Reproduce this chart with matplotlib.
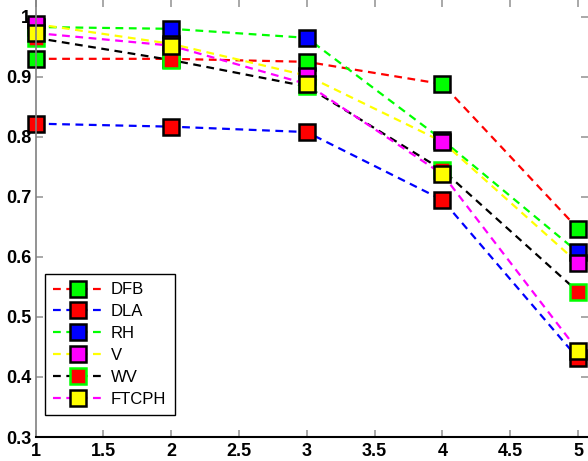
import numpy as np
import matplotlib
matplotlib.use('Agg')
import matplotlib.pyplot as plt

plt.rcParams['font.family'] = ['Liberation Sans', 'DejaVu Sans']

# Data
x = [1, 2, 3, 4, 5]
dfb = [0.930, 0.930, 0.925, 0.888, 0.647]
dla = [0.822, 0.817, 0.808, 0.695, 0.431]
rh = [0.983, 0.980, 0.965, 0.795, 0.608]
v = [0.988, 0.955, 0.902, 0.792, 0.590]
wv = [0.965, 0.928, 0.884, 0.745, 0.542]
ftcph = [0.973, 0.952, 0.888, 0.738, 0.444]

names = ['DFB', 'DLA', 'RH', 'V', 'WV', 'FTCPH']
series = [dfb, dla, rh, v, wv, ftcph]
line_cols = ['#ff0000', '#0000ff', '#00ff00', '#ffff00', '#000000', '#ff00ff']
face_cols = ['#00ff00', '#ff0000', '#0000ff', '#ff00ff', '#ff0000', '#ffff00']
edge_cols = ['black', 'black', 'black', 'black', '#00ff00', 'black']

fig = plt.figure(figsize=(5.88, 4.61), dpi=100)
ax = fig.add_axes([35.5 / 588, 24 / 461, (588 - 35.5) / 588, 437 / 461])

for ys, nm, lc, fc, ec in zip(series, names, line_cols, face_cols, edge_cols):
    ax.plot(x, ys, linestyle='--', color=lc, linewidth=1.6, dashes=(3.5, 2.5),
            marker='s', markersize=11, markerfacecolor=fc,
            markeredgecolor=ec, markeredgewidth=1.8, label=nm, clip_on=False)

ax.set_xlim(1, 5.074)
ax.set_ylim(0.3, 1.028)
ax.set_xticks([1, 1.5, 2, 2.5, 3, 3.5, 4, 4.5, 5])
ax.set_xticklabels(['1', '1.5', '2', '2.5', '3', '3.5', '4', '4.5', '5'])
ax.set_yticks([0.3, 0.4, 0.5, 0.6, 0.7, 0.8, 0.9, 1.0])
ax.set_yticklabels(['0.3', '0.4', '0.5', '0.6', '0.7', '0.8', '0.9', '1'])
ax.tick_params(direction='in', length=5, width=1.2, color='0.6',
               top=True, right=True, labelsize=13, pad=3)
ax.tick_params(axis='x', pad=4)
for lab in ax.get_xticklabels() + ax.get_yticklabels():
    lab.set_fontweight('heavy')

ax.spines['top'].set_visible(False)
ax.spines['right'].set_visible(False)
ax.spines['left'].set_color('0.5')
ax.spines['left'].set_linewidth(1.2)
ax.spines['bottom'].set_color('black')
ax.spines['bottom'].set_linewidth(1.5)

leg = ax.legend(loc='upper left', bbox_to_anchor=(45 / 588, 1 - 274 / 461),
                bbox_transform=fig.transFigure, borderaxespad=0,
                fontsize=12, handlelength=2.9, handletextpad=0.55,
                labelspacing=0.41, borderpad=0.5, fancybox=False,
                framealpha=1, edgecolor='black')
leg.get_frame().set_linewidth(1.0)
leg.set_zorder(5)

fig.savefig('out.png', dpi=100)
